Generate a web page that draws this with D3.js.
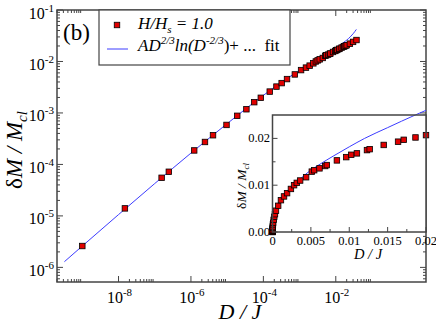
<!DOCTYPE html>
<html>
<head>
<meta charset="utf-8">
<script src="https://cdn.jsdelivr.net/npm/d3@7"></script>
<style>
  body { margin: 0; background: #fff; }
</style>
</head>
<body>
<svg id="chart" width="436" height="324"></svg>
<script>
// data: D/J and dM/Mcl for H/Hs = 1.0
const dValues = [1.0e-9, 1.5e-8, 1.55e-7, 2.45e-7, 1.23e-6, 2.44e-6, 4.07e-6, 9.6e-6,
  1.9e-5, 3.4e-5, 5.6e-5, 8.5e-5, 1.5e-4, 2.3e-4, 3.2e-4, 4.5e-4, 7.4e-4, 1.1e-3,
  1.5e-3, 1.9e-3, 2.4e-3, 2.81e-3, 3.16e-3, 3.6e-3, 4.38e-3, 5.12e-3, 5.43e-3, 6.12e-3,
  6.86e-3, 7.08e-3, 8.39e-3, 9.61e-3, 0.01026, 0.0110, 0.01231, 0.01266, 0.01449,
  0.01636, 0.0171, 0.01863, 0.0200, 0.0245, 0.030, 0.0373];
const mValues = [2.6e-6, 1.4e-5, 5.5e-5, 7.2e-5, 1.87e-4, 2.73e-4, 3.69e-4, 5.85e-4,
  8.8e-4, 1.18e-3, 1.62e-3, 1.97e-3, 2.6e-3, 3.25e-3, 3.8e-3, 4.55e-3, 5.6e-3, 6.8e-3,
  7.6e-3, 8.3e-3, 9.2e-3, 0.0100, 0.0105, 0.0110, 0.0117, 0.0129, 0.0132, 0.0136,
  0.0141, 0.0143, 0.0153, 0.0160, 0.0165, 0.0168, 0.0175, 0.0177, 0.0186,
  0.0193, 0.0197, 0.0202, 0.0207, 0.0222, 0.0240, 0.0261];

// fit curve, sampled by eye
const fitD = [3.2e-10, 1e-9, 1e-8, 1e-7, 1e-6, 1e-5, 1e-4, 5e-4, 1e-3, 2e-3, 3e-3,
  4e-3, 5e-3, 6e-3, 8e-3, 0.01, 0.012, 0.015, 0.0186, 0.02, 0.025, 0.03, 0.037];
const fitM = [1.29e-6, 2.6e-6, 1.06e-5, 4.25e-5, 1.66e-4, 6.2e-4, 2.2e-3, 4.9e-3, 6.7e-3,
  8.8e-3, 0.0103, 0.0119, 0.0132, 0.0143, 0.0163, 0.0182, 0.0200, 0.0223, 0.0250,
  0.0260, 0.0300, 0.0345, 0.0420];

const mainXMajor = [1e-8, 1e-6, 1e-4, 1e-2];
const mainYMajor = [1e-6, 1e-5, 1e-4, 1e-3, 1e-2, 1e-1];
const insetXTicks = [0, 0.005, 0.01, 0.015, 0.02];
const insetXLabels = ["0", "0.005", "0.01", "0.015", "0.02"];
const insetYTicks = [0, 0.01, 0.02];
const insetYLabels = ["0.00", "0.01", "0.02"];

const svg = d3.select("#chart");
const frameColor = "#444", red = "#e00000", blue = "#3c3cff";
const serif = "'Liberation Serif', 'Times New Roman', Times, 'DejaVu Serif', serif";
const ms = 5.5; // marker size

// ---- main plot
const L = 57, R = 426, T = 10, B = 282;
const x = d3.scaleLog().domain([2e-10, 3.1]).range([L, R]);
const y = d3.scaleLog().domain([5.2e-7, 0.1]).range([B, T]);

const expOf = v => Math.round(Math.log10(v));
function minorsLog(exps, dom) {
  const out = [];
  exps.forEach(e => { for (let k = 2; k <= 9; k++) { const v = k * Math.pow(10, e); if (v >= dom[0] && v <= dom[1]) out.push(v); } });
  return out;
}
const xMinor = minorsLog([-10, -8, -6, -4, -2], x.domain());
const yMinor = minorsLog([-7, -6, -5, -4, -3, -2], y.domain());

const ticks = svg.append("g").attr("stroke", frameColor).attr("stroke-width", 1);
[[B, -1], [T, 1]].forEach(([yy, dir]) => {
  ticks.selectAll(null).data(mainXMajor).enter().append("line")
    .attr("x1", d => x(d)).attr("x2", d => x(d)).attr("y1", yy).attr("y2", yy + dir * 6);
  ticks.selectAll(null).data(xMinor).enter().append("line")
    .attr("x1", d => x(d)).attr("x2", d => x(d)).attr("y1", yy).attr("y2", yy + dir * 3);
});
[[L, 1], [R, -1]].forEach(([xx, dir]) => {
  ticks.selectAll(null).data(mainYMajor).enter().append("line")
    .attr("y1", d => y(d)).attr("y2", d => y(d)).attr("x1", xx).attr("x2", xx + dir * 6);
  ticks.selectAll(null).data(yMinor).enter().append("line")
    .attr("y1", d => y(d)).attr("y2", d => y(d)).attr("x1", xx).attr("x2", xx + dir * 3);
});

// power-of-ten labels
function powLabel(sel) {
  sel.append("tspan").text("10");
  sel.append("tspan").attr("font-size", 11).attr("dy", -7).text(d => expOf(d));
}
svg.append("g").attr("font-family", serif).selectAll("text").data(mainXMajor).enter().append("text")
  .attr("x", d => x(d) + 1).attr("y", 303).attr("text-anchor", "middle")
  .attr("font-size", 16).call(powLabel);
svg.append("g").attr("font-family", serif).selectAll("text").data(mainYMajor).enter().append("text")
  .attr("x", 54).attr("y", d => y(d) + 8.5).attr("text-anchor", "end")
  .attr("font-size", 16).call(powLabel);

// fit line + points
const line = d3.line().x((d, i) => x(fitD[i])).y(d => y(d)).curve(d3.curveMonotoneX);
svg.append("path").attr("d", line(fitM)).attr("fill", "none").attr("stroke", blue).attr("stroke-width", 1);
svg.append("g").selectAll("rect").data(dValues).enter().append("rect")
  .attr("x", d => x(d) - ms / 2).attr("y", (d, i) => y(mValues[i]) - ms / 2)
  .attr("width", ms).attr("height", ms).attr("fill", red).attr("stroke", "#000").attr("stroke-width", 0.8);

svg.append("rect").attr("x", L).attr("y", T).attr("width", R - L).attr("height", B - T)
  .attr("fill", "none").attr("stroke", frameColor).attr("stroke-width", 1.5);

// axis titles
svg.append("text").attr("font-family", serif)
  .attr("transform", "translate(22,150) rotate(-90)").attr("text-anchor", "middle")
  .attr("font-size", 23).attr("font-style", "italic")
  .call(t => {
    t.append("tspan").attr("font-style", "normal").text("δ");
    t.append("tspan").text("M / M");
    t.append("tspan").attr("font-size", 15).attr("dy", 5).text("cl");
  });
svg.append("text").attr("font-family", serif).attr("x", 240).attr("y", 318.5).attr("text-anchor", "middle")
  .attr("font-size", 22).attr("font-style", "italic").text("D / J");

svg.append("text").attr("font-family", serif).attr("x", 63).attr("y", 40).attr("font-size", 23).text("(b)");

// legend
const leg = svg.append("g").attr("font-family", serif);
leg.append("rect").attr("x", 99).attr("y", T).attr("width", 191).attr("height", 55)
  .attr("fill", "#fff").attr("stroke", frameColor).attr("stroke-width", 1.2);
leg.append("rect").attr("x", 117 - ms / 2).attr("y", 25 - ms / 2).attr("width", ms).attr("height", ms)
  .attr("fill", red).attr("stroke", "#000").attr("stroke-width", 0.8);
leg.append("line").attr("x1", 107).attr("x2", 128).attr("y1", 49).attr("y2", 49)
  .attr("stroke", blue).attr("stroke-width", 1);
leg.append("text").attr("x", 138).attr("y", 29).attr("font-size", 17).attr("font-style", "italic")
  .call(t => {
    t.append("tspan").text("H/H");
    t.append("tspan").attr("font-size", 11).attr("dy", 4).text("s");
    t.append("tspan").attr("dy", -4).text(" = 1.0");
  });
leg.append("text").attr("x", 138).attr("y", 51).attr("font-size", 17)
  .call(t => {
    t.append("tspan").attr("font-style", "italic").text("AD");
    t.append("tspan").attr("font-style", "italic").attr("font-size", 11).attr("dy", -7).text("2/3");
    t.append("tspan").attr("font-style", "italic").attr("dy", 7).text("ln(D");
    t.append("tspan").attr("font-style", "italic").attr("font-size", 11).attr("dy", -7).text("-2/3");
    t.append("tspan").attr("dy", 7).text(")+ ...\u00a0\u00a0fit");
  });

// ---- inset
const iL = 272.5, iR = 426, iT = 115, iB = 232;
const xi = d3.scaleLinear().domain([0, 0.02]).range([iL, iR]);
const yi = d3.scaleLinear().domain([0, 0.025]).range([iB, iT]);
const inset = svg.append("g");
inset.append("rect").attr("x", iL).attr("y", iT).attr("width", iR - iL).attr("height", iB - iT)
  .attr("fill", "#fff");

const xiMinor = d3.range(0.0025, 0.02, 0.005);
const yiMinor = [0.005, 0.015];
const it = inset.append("g").attr("stroke", frameColor).attr("stroke-width", 1);
it.selectAll(null).data(insetXTicks).enter().append("line")
  .attr("x1", d => xi(d)).attr("x2", d => xi(d)).attr("y1", iB).attr("y2", iB - 5);
it.selectAll(null).data(xiMinor).enter().append("line")
  .attr("x1", d => xi(d)).attr("x2", d => xi(d)).attr("y1", iB).attr("y2", iB - 3);
it.selectAll(null).data(insetYTicks).enter().append("line")
  .attr("y1", d => yi(d)).attr("y2", d => yi(d)).attr("x1", iL).attr("x2", iL + 5);
it.selectAll(null).data(yiMinor).enter().append("line")
  .attr("y1", d => yi(d)).attr("y2", d => yi(d)).attr("x1", iL).attr("x2", iL + 3);

inset.append("g").attr("font-family", serif).selectAll("text").data(insetXTicks).enter().append("text")
  .attr("x", d => xi(d)).attr("y", 245).attr("text-anchor", "middle").attr("font-size", 12.5)
  .text((d, i) => insetXLabels[i]);
inset.append("g").attr("font-family", serif).selectAll("text").data(insetYTicks).enter().append("text")
  .attr("x", 270).attr("y", d => yi(d) + 4).attr("text-anchor", "end").attr("font-size", 12.5)
  .text((d, i) => insetYLabels[i]);

const fitIdx = fitD.map((d, i) => i).filter(i => fitD[i] <= 0.0201);
const lineI = d3.line().x(i => xi(fitD[i])).y(i => yi(fitM[i])).curve(d3.curveMonotoneX);
inset.append("path").attr("d", lineI(fitIdx)).attr("fill", "none").attr("stroke", blue).attr("stroke-width", 1);

const ptIdx = dValues.map((d, i) => i).filter(i => dValues[i] <= 0.0201);
inset.append("g").selectAll("rect").data(ptIdx).enter().append("rect")
  .attr("x", i => xi(dValues[i]) - ms / 2).attr("y", i => yi(mValues[i]) - ms / 2)
  .attr("width", ms).attr("height", ms).attr("fill", red).attr("stroke", "#000").attr("stroke-width", 0.8);

inset.append("rect").attr("x", iL).attr("y", iT).attr("width", iR - iL).attr("height", iB - iT)
  .attr("fill", "none").attr("stroke", frameColor).attr("stroke-width", 1.5);

inset.append("text").attr("font-family", serif).attr("x", 368).attr("y", 259).attr("text-anchor", "middle")
  .attr("font-size", 14.5).attr("font-style", "italic").text("D / J");
inset.append("text").attr("font-family", serif)
  .attr("transform", "translate(246,186) rotate(-90)").attr("text-anchor", "middle")
  .attr("font-size", 13.5).attr("font-style", "italic")
  .call(t => {
    t.append("tspan").attr("font-style", "normal").text("δ");
    t.append("tspan").text("M / M");
    t.append("tspan").attr("font-size", 9).attr("dy", 3).text("cl");
  });
</script>
</body>
</html>
